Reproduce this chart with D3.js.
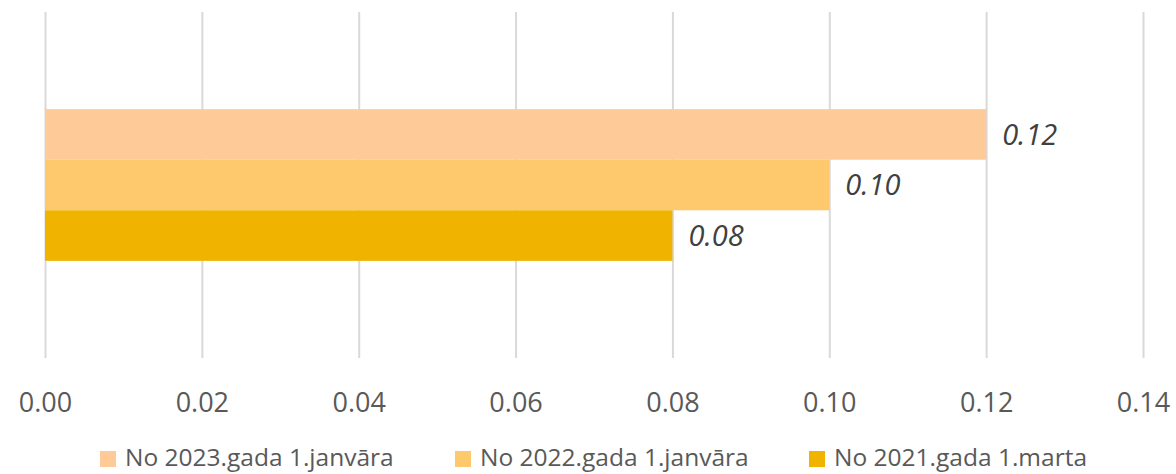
<!DOCTYPE html>
<html>
<head>
<meta charset="utf-8">
<script src="https://cdn.jsdelivr.net/npm/d3@7"></script>
<style>
  body { margin: 0; background: #fff; }
  svg, svg text { font-family: "Open Sans", sans-serif; }
  .tick text { fill: #595959; }
  .bar-label { fill: #404040; font-style: italic; }
  .legend text { fill: #595959; }
</style>
</head>
<body>
<svg id="chart" width="1176" height="474"></svg>
<script>
// chart data
const categories = [''];
const seriesNames = ['No 2023.gada 1.janvāra', 'No 2022.gada 1.janvāra', 'No 2021.gada 1.marta'];
const seriesValues = [[0.12], [0.10], [0.08]];
const seriesColors = ['#FECA98', '#FEC86C', '#F0B300'];
const xTicks = [0, 0.02, 0.04, 0.06, 0.08, 0.10, 0.12, 0.14];

const margin = {top: 12, right: 33, bottom: 116, left: 45};
const W = 1176, H = 474;
const w = W - margin.left - margin.right;
const h = H - margin.top - margin.bottom;

const svg = d3.select('#chart');
const g = svg.append('g').attr('transform', `translate(${margin.left}, ${margin.top})`);

const x = d3.scaleLinear().domain([0, 0.14]).range([0, w]);
const y0 = d3.scaleBand().domain(categories).range([0, h]).paddingOuter(0.64);
const y1 = d3.scaleBand().domain(d3.range(seriesNames.length)).range([0, y0.bandwidth()]);

// gridlines + tick labels
const axis = g.append('g')
  .call(d3.axisBottom(x)
    .tickValues(xTicks)
    .tickSize(h)
    .tickPadding(35)
    .tickFormat(d3.format('.2f')))
  .attr('font-family', null);
axis.select('.domain').remove();
axis.selectAll('.tick line').attr('stroke', '#d9d9d9').attr('stroke-width', 2);
axis.selectAll('.tick text').attr('font-size', 27);

// bars
categories.forEach((c, ci) => {
  seriesNames.forEach((s, si) => {
    const v = seriesValues[si][ci];
    const yy = y0(c) + y1(si);
    g.append('rect')
      .attr('x', x(0))
      .attr('y', yy)
      .attr('width', x(v) - x(0))
      .attr('height', y1.bandwidth())
      .attr('fill', seriesColors[si]);
    g.append('text')
      .attr('class', 'bar-label')
      .attr('x', x(v) + 16)
      .attr('y', yy + y1.bandwidth() / 2)
      .attr('dy', '0.36em')
      .attr('font-size', 29)
      .text(d3.format('.2f')(v));
  });
});

// legend
const legendX = [100, 455, 809];
const legend = svg.append('g').attr('class', 'legend');
seriesNames.forEach((s, i) => {
  const lg = legend.append('g').attr('transform', `translate(${legendX[i]}, 457)`);
  lg.append('rect').attr('x', 0).attr('y', -6).attr('width', 16).attr('height', 16).attr('fill', seriesColors[i]);
  lg.append('text').attr('x', 25).attr('y', 0).attr('dy', '0.36em').attr('font-size', 24.5).text(s);
});
</script>
</body>
</html>
